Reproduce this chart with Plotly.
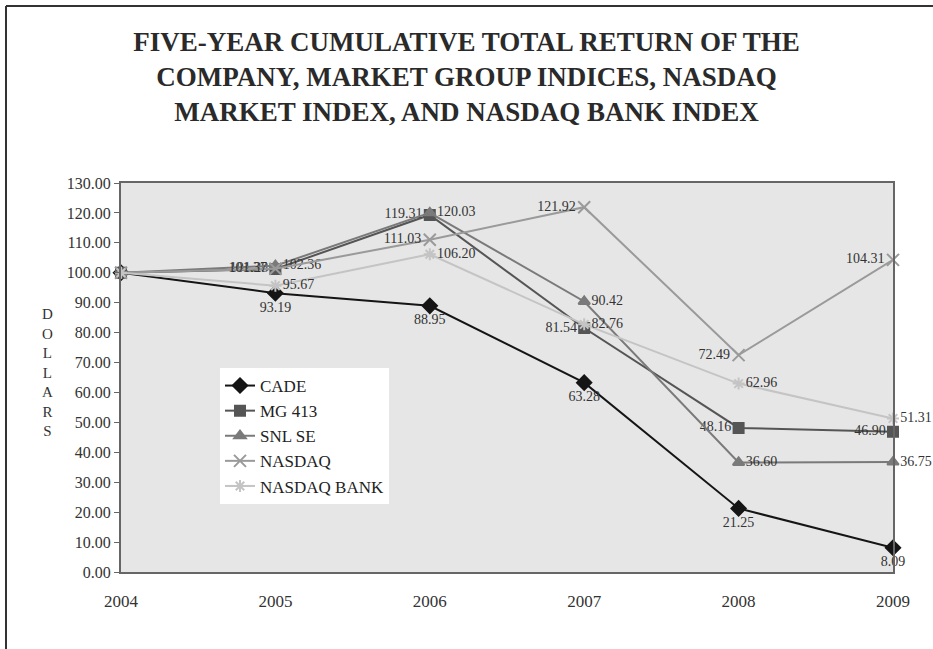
import plotly.graph_objects as go

years = [2004, 2005, 2006, 2007, 2008, 2009]
year_labels = ["2004", "2005", "2006", "2007", "2008", "2009"]
series_names = ["CADE", "MG 413", "SNL SE", "NASDAQ", "NASDAQ BANK"]
cade = [100.00, 93.19, 88.95, 63.28, 21.25, 8.09]
mg413 = [100.00, 101.28, 119.31, 81.54, 48.16, 46.90]
snl_se = [100.00, 102.36, 120.03, 90.42, 36.60, 36.75]
nasdaq = [100.00, 101.37, 111.03, 121.92, 72.49, 104.31]
nasdaq_bank = [100.00, 95.67, 106.20, 82.76, 62.96, 51.31]
y_ticks = [0, 10, 20, 30, 40, 50, 60, 70, 80, 90, 100, 110, 120, 130]

SERIF = "Liberation Serif, Times New Roman, serif"

def labels(vals, skip=(0,)):
    return ["" if i in skip else f"{v:.2f}" for i, v in enumerate(vals)]

styles = [
    (cade, "#151515", "diamond", 11, "bottom center"),
    (mg413, "#555555", "square", 10, "middle left"),
    (snl_se, "#7a7a7a", "triangle-up", 10, "middle right"),
    (nasdaq, "#9a9a9a", "x-thin-open", 12, "middle left"),
    (nasdaq_bank, "#c4c4c4", "asterisk-open", 10, "middle right"),
]

fig = go.Figure()
for name, (vals, col, sym, size, tpos) in zip(series_names, styles):
    fig.add_trace(go.Scatter(
        x=years, y=vals, name=name, mode="lines+markers+text",
        line=dict(color=col, width=2),
        marker=dict(symbol=sym, size=size, color=col,
                    line=dict(color=col, width=2)),
        text=labels(vals), textposition=tpos,
        textfont=dict(family=SERIF, size=14, color="#333333"),
        cliponaxis=False,
    ))

fig.update_layout(
    width=933, height=649,
    margin=dict(l=121, r=40, t=183, b=77),
    paper_bgcolor="white", plot_bgcolor="#e6e6e6",
    title=dict(
        text="FIVE-YEAR CUMULATIVE TOTAL RETURN OF THE<br>COMPANY, MARKET GROUP INDICES, NASDAQ<br>MARKET INDEX, AND NASDAQ BANK INDEX",
        x=0.5, xanchor="center", y=1 - 51 / 649, yanchor="middle",
        font=dict(family=SERIF, size=27, color="#2a2a2a", weight="bold"),
    ),
    font=dict(family=SERIF, color="#333333"),
    xaxis=dict(
        range=[2004, 2009], tickvals=years, ticktext=year_labels,
        showgrid=False, zeroline=False, showline=True, mirror=True,
        linecolor="#666666", linewidth=2, ticks="", ticklabelstandoff=13,
        tickfont=dict(family=SERIF, size=17, color="#333333"),
    ),
    yaxis=dict(
        range=[0, 130], tickvals=y_ticks, tickformat=".2f",
        showgrid=False, zeroline=False, showline=True, mirror=True,
        linecolor="#666666", linewidth=2, ticks="outside", ticklen=5,
        tickcolor="#666666",
        tickfont=dict(family=SERIF, size=16, color="#333333"),
    ),
    legend=dict(
        x=(220 - 121) / 772, y=(572 - 368) / 389, xanchor="left", yanchor="top",
        bgcolor="white", borderwidth=0,
        font=dict(family=SERIF, size=17, color="#222222"),
        tracegroupgap=0, itemwidth=30,
    ),
    showlegend=True,
)

fig.add_annotation(
    text="D<br>O<br>L<br>L<br>A<br>R<br>S", xref="paper", yref="paper",
    x=(47 - 121) / 772, y=(572 - 372) / 389, xanchor="center", yanchor="middle",
    showarrow=False, font=dict(family=SERIF, size=15, color="#333333"),
)

# page border (left and top)
fig.add_shape(type="line", xref="paper", yref="paper",
              x0=(6 - 121) / 772, x1=(6 - 121) / 772,
              y0=(572 - 6) / 389, y1=(572 - 649) / 389,
              line=dict(color="#333333", width=2))
fig.add_shape(type="line", xref="paper", yref="paper",
              x0=(6 - 121) / 772, x1=(933 - 121) / 772,
              y0=(572 - 6) / 389, y1=(572 - 6) / 389,
              line=dict(color="#333333", width=2))

fig.write_html("out.html")
